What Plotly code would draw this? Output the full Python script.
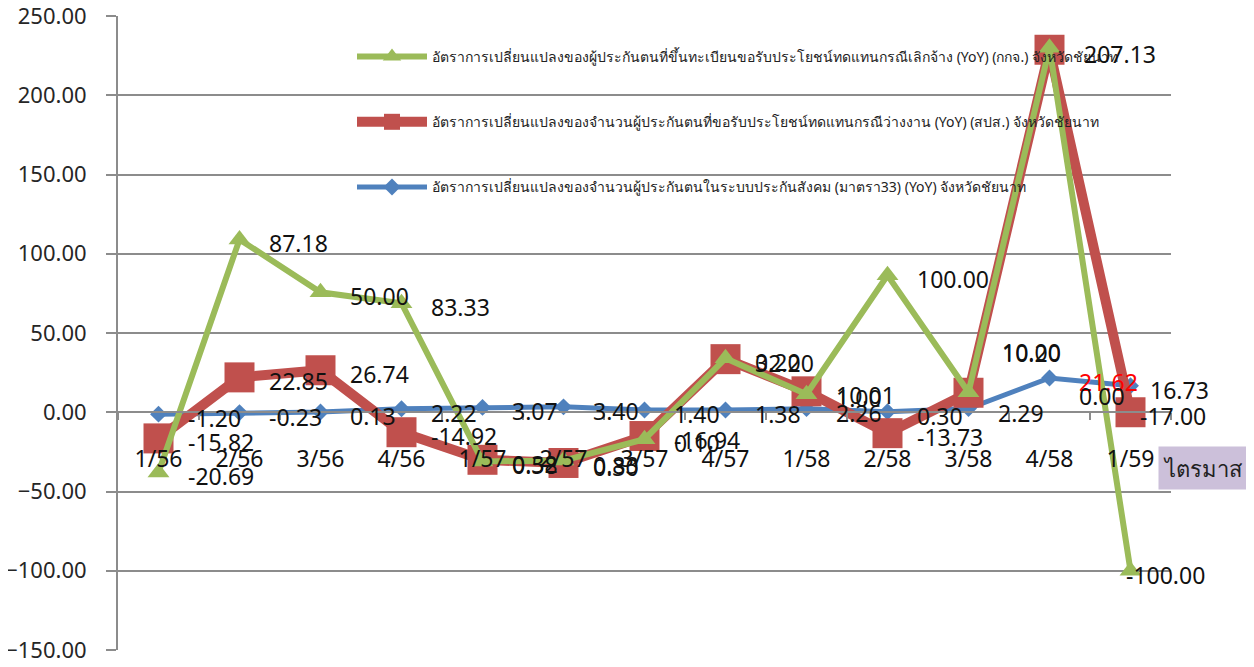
import plotly.graph_objects as go

categories = ["1/56", "2/56", "3/56", "4/56", "1/57", "2/57", "3/57", "4/57",
              "1/58", "2/58", "3/58", "4/58", "1/59"]

blue_name = "อัตราการเปลี่ยนแปลงของจำนวนผู้ประกันตนในระบบประกันสังคม (มาตรา33) (YoY) จังหวัดชัยนาท"
red_name = "อัตราการเปลี่ยนแปลงของจำนวนผู้ประกันตนที่ขอรับประโยชน์ทดแทนกรณีว่างงาน (YoY) (สปส.) จังหวัดชัยนาท"
green_name = "อัตราการเปลี่ยนแปลงของผู้ประกันตนที่ขึ้นทะเบียนขอรับประโยชน์ทดแทนกรณีเลิกจ้าง (YoY) (กกจ.) จังหวัดชัยนาท"

blue_vals = [-1.20, -0.23, 0.13, 2.22, 3.07, 3.40, 1.40, 1.38, 2.26, 0.30, 2.29, 21.62, 16.73]
blue_labels = ["-1.20", "-0.23", "0.13", "2.22", "3.07", "3.40", "1.40", "1.38",
               "2.26", "0.30", "2.29", "21.62", "16.73"]

red_vals = [-16.5, 22.0, 26.5, -12.6, -30.0, -32.0, -15.0, 33.5, 13.2, -13.2, 12.3, 228.7, 0.0]
red_labels = ["-15.82", "22.85", "26.74", "-14.92", "0.32", "0.30", "-16.94", "32.20",
              "10.01", "-13.73", "10.20", "207.13", "-17.00"]

green_vals = [-38.0, 109.0, 75.7, 68.8, -31.0, -30.5, -17.0, 34.0, 11.4, 86.4, 12.6, 230.0, -100.0]
green_labels = ["-20.69", "87.18", "50.00", "83.33", "0.58", "0.83", "0.10", "0.20",
                "1.00", "100.00", "10.00", "0.00", "-100.00"]

y_ticks = [-150, -100, -50, 0, 50, 100, 150, 200, 250]
axis_title = "ไตรมาส"

BLUE = "#4F81BD"
RED = "#C0504D"
GREEN = "#9BBB59"
GRID = "#8C8C8C"
FONT = "Noto Sans, Open Sans, DejaVu Sans, sans-serif"

fig = go.Figure()

series = [
    (blue_name, blue_vals, BLUE, 5, "diamond", 13, 3),
    (red_name, red_vals, RED, 10, "square", 30, 2),
    (green_name, green_vals, GREEN, 6, "triangle-up", 19, 1),
]
for i, (name, vals, col, lw, sym, ms, rank) in enumerate(series):
    fig.add_trace(go.Scatter(
        x=categories, y=vals, name=name, mode="lines+markers",
        line=dict(color=col, width=lw),
        marker=dict(symbol=sym, size=ms, color=col, line=dict(width=0)),
        legendgroup="g%d" % i, legendrank=rank, cliponaxis=False,
    ))

# data labels (Excel-style, right of point)
DEF_X, DEF_Y = 27, -4
overrides = {
    ("b", 12): (17, DEF_Y),
    ("r", 12): (7, DEF_Y),
    ("g", 12): (-7, DEF_Y),
    ("r", 11): (32, DEF_Y),
    ("r", 10): (31, 40),
    ("g", 10): (31, 40),
    ("g", 11): (27, -348),
}
label_sets = [("b", blue_vals, blue_labels), ("r", red_vals, red_labels), ("g", green_vals, green_labels)]
annotations = []
for key, vals, labs in label_sets:
    for j, (c, v, t) in enumerate(zip(categories, vals, labs)):
        xs, ys = overrides.get((key, j), (DEF_X, DEF_Y))
        color = "#FF0000" if (key == "b" and j == 11) else "#111111"
        annotations.append(dict(
            x=c, y=v, xref="x", yref="y", text=t, showarrow=False,
            xanchor="left", yanchor="middle", xshift=xs, yshift=ys,
            font=dict(family=FONT, size=23, color=color),
        ))

annotations.append(dict(
    x=(1158 - 118) / 1053, y=(650 - 468) / 634, xref="paper", yref="paper",
    text=axis_title, showarrow=False, xanchor="left", yanchor="middle",
    bgcolor="#CCC0DA", width=85, height=40,
    font=dict(family=FONT, size=22, color="#222222"),
))

# page body adds an 8px offset; margins compensate so the plot area lands at x 118-1171, y 16-650
fig.update_layout(
    width=1254, height=667,
    margin=dict(l=110, r=91, t=8, b=25),
    plot_bgcolor="white", paper_bgcolor="white",
    font=dict(family=FONT, color="#111111"),
    showlegend=True,
    legend=dict(
        x=(352 - 118) / 1053, y=1 - (41 - 16) / 634, xanchor="left", yanchor="top",
        bgcolor="rgba(0,0,0,0)", itemwidth=70, tracegroupgap=44,
        traceorder="grouped",
        font=dict(family=FONT, size=14, color="#222222"),
    ),
    annotations=annotations,
    xaxis=dict(
        type="category", categoryorder="array", categoryarray=categories,
        range=[-0.5, 12.5], anchor="free", position=150 / 400,
        showline=True, linecolor=GRID, linewidth=2,
        ticks="outside", tickson="boundaries", ticklen=7, tickcolor=GRID, tickwidth=1.5,
        showgrid=False, zeroline=False, automargin=False,
        tickfont=dict(family=FONT, size=23, color="#111111"),
        ticklabelstandoff=26, ticklabeloverflow="allow",
    ),
    yaxis=dict(
        range=[-150, 250], tickvals=y_ticks, tickformat=".2f",
        showgrid=True, gridcolor=GRID, gridwidth=1.5,
        showline=True, linecolor=GRID, linewidth=2,
        ticks="outside", ticklen=10, tickcolor=GRID, tickwidth=1.5,
        zeroline=False, automargin=False,
        tickfont=dict(family=FONT, size=22, color="#262626"),
        ticklabelstandoff=15, ticklabeloverflow="allow",
    ),
)

fig.write_html("out.html")
